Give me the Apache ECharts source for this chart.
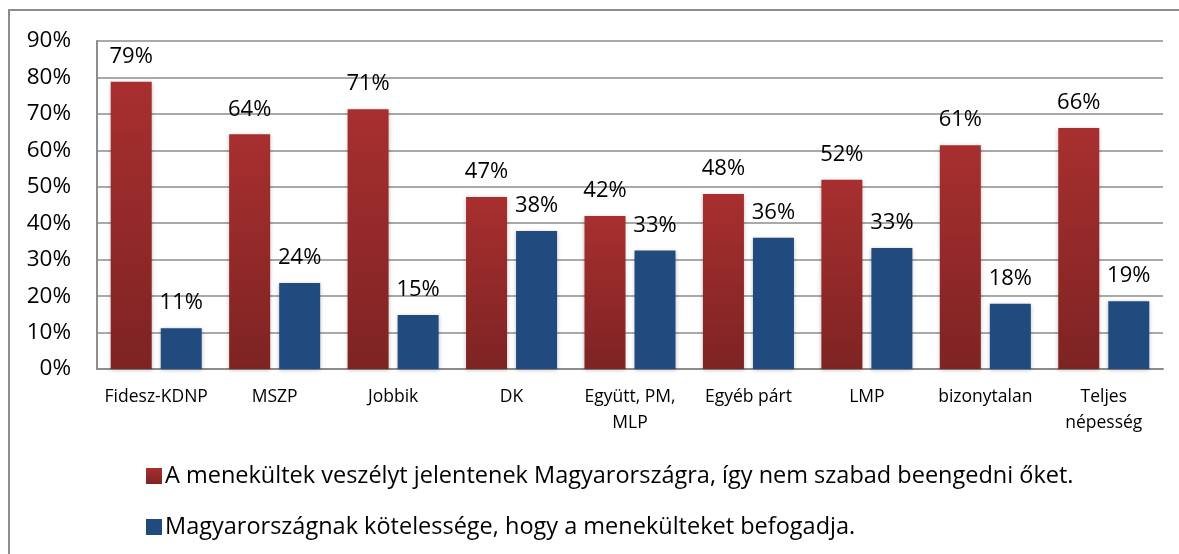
<!DOCTYPE html>
<html>
<head>
<meta charset="utf-8">
<script src="https://cdn.jsdelivr.net/npm/echarts@6/dist/echarts.min.js"></script>
<style>
  html, body { margin: 0; padding: 0; background: #fff; }
  .frame {
    position: absolute; left: 8px; top: 9px; width: 1171px; height: 545px;
    border-top: 2px solid #8c8c8c; border-left: 2px solid #8c8c8c;
  }
  #chart { position: absolute; left: 0; top: 0; width: 1179px; height: 554px; }
</style>
</head>
<body>
<div class="frame"></div>
<div id="chart"></div>
<script>
var categories = ['Fidesz-KDNP', 'MSZP', 'Jobbik', 'DK', 'Együtt, PM,\nMLP', 'Egyéb párt', 'LMP', 'bizonytalan', 'Teljes\nnépesség'];
var dangerValues = [78.8, 64.4, 71.3, 47.2, 42.0, 48.0, 51.9, 61.4, 66.1];
var dutyValues = [11.2, 23.6, 14.8, 37.9, 32.5, 36.0, 33.2, 17.9, 18.6];
var seriesNames = [
  'A menekültek veszélyt jelentenek Magyarországra, így nem szabad beengedni őket.',
  'Magyarországnak kötelessége, hogy a menekülteket befogadja.'
];

var font = '"Open Sans", Lato, sans-serif';
var redFill = new echarts.graphic.LinearGradient(0, 0, 0, 1, [
  { offset: 0, color: '#a82f2f' },
  { offset: 1, color: '#7e2323' }
]);

var chart = echarts.init(document.getElementById('chart'));
chart.setOption({
  animation: false,
  textStyle: { fontFamily: font },
  grid: { left: 97, right: 16, top: 41, bottom: 185 },
  legend: {
    orient: 'vertical',
    left: 141,
    top: 459,
    itemWidth: 16,
    itemHeight: 16,
    itemGap: 27,
    icon: 'rect',
    textStyle: { fontSize: 23.5, color: '#000', fontFamily: font, padding: [0, 0, 0, -2] },
    data: seriesNames
  },
  xAxis: {
    type: 'category',
    data: categories,
    axisTick: { show: false },
    axisLine: { lineStyle: { color: '#8c8c8c', width: 2 } },
    axisLabel: { color: '#000', fontSize: 17.5, margin: 15, lineHeight: 26, interval: 0 }
  },
  yAxis: {
    type: 'value',
    min: 0,
    max: 90,
    interval: 10,
    axisLine: { show: true, lineStyle: { color: '#8c8c8c', width: 2 } },
    axisTick: { show: false },
    splitLine: { lineStyle: { color: '#8c8c8c', width: 1.5 } },
    axisLabel: { color: '#000', fontSize: 22.5, margin: 26, formatter: '{value}%' }
  },
  series: [
    {
      name: seriesNames[0],
      type: 'bar',
      data: dangerValues,
      barWidth: 41,
      barGap: '22%',
      itemStyle: { color: redFill, shadowColor: 'rgba(0,0,0,0.25)', shadowBlur: 4, shadowOffsetY: 1 },
      label: {
        show: true, position: 'top', distance: 14, fontSize: 22, color: '#000',
        formatter: function (p) { return Math.round(p.value) + '%'; }
      }
    },
    {
      name: seriesNames[1],
      type: 'bar',
      data: dutyValues,
      barWidth: 41,
      itemStyle: { color: '#214a7e', shadowColor: 'rgba(0,0,0,0.25)', shadowBlur: 4, shadowOffsetY: 1 },
      label: {
        show: true, position: 'top', distance: 14, fontSize: 22, color: '#000',
        formatter: function (p) { return Math.round(p.value) + '%'; }
      }
    }
  ]
});
</script>
</body>
</html>
